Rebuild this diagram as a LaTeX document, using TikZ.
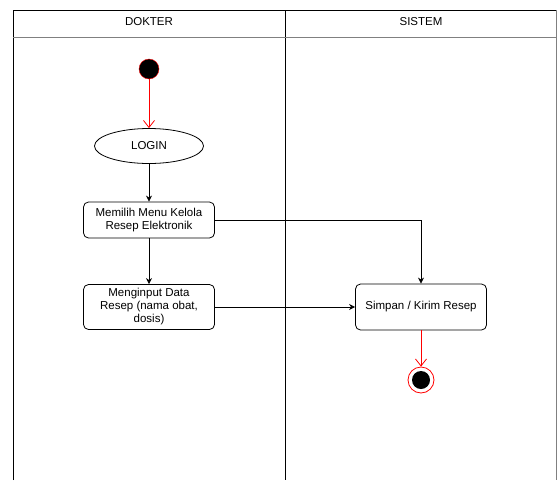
\documentclass[tikz,border=0pt]{standalone}
\usepackage{fontspec}
\setmainfont{Liberation Sans}
\usetikzlibrary{arrows.meta,positioning,shapes.geometric}

\begin{document}
\begin{tikzpicture}[x=1pt,y=-1pt,
  font=\fontsize{11.5}{13}\selectfont,
  action/.style={rectangle,rounded corners=5pt,draw,thick,minimum width=131pt,minimum height=36pt,align=center,inner sep=1pt},
  flow/.style={thick,-{Stealth[length=6pt,width=6pt]}},
  redflow/.style={thick,draw=red,-{Straight Barb[length=7pt,width=11pt]}}]

  \useasboundingbox (0,0) rectangle (557,480);

  % swimlanes
  \draw[thick] (13,480) -- (13,10) -- (556,10);
  \draw[thick] (285,10) -- (285,480);
  \draw[thick,gray] (556,10) -- (556,480);
  \draw[thick,gray] (13,37) -- (556,37);
  \node(lane1) at (149,22) {DOKTER};
  \node(lane2) at (421,22) {SISTEM};

  % dokter
  \node(start)[circle,fill=black,draw=red,minimum size=20pt,inner sep=0pt] at (149,69) {};
  \node(login)[ellipse,draw,thick,minimum width=109pt,minimum height=35pt] at (149,146) {LOGIN};
  \node(menu)[action] at (149,220) {Memilih Menu Kelola\\Resep Elektronik};
  \node(input)[action,minimum height=45pt] at (149,307) {Menginput Data\\Resep (nama obat,\\dosis)};

  % sistem
  \node(simpan)[action,minimum height=46pt] at (421,307) {Simpan / Kirim Resep};
  \node(finish)[circle,draw=red,thick,minimum size=26pt,inner sep=0pt] at (421,380) {};
  \node(finishin)[circle,fill=black,minimum size=18pt,inner sep=0pt] at (finish) {};

  \draw[redflow] (start) -- (login);
  \draw[flow] (login) -- (menu);
  \draw[flow] (menu) -- (input);
  % menu -> simpan
  \draw[flow] (menu.east) -- (menu.east -| simpan) -- (simpan);
  \draw[flow] (input) -- (simpan);
  \draw[redflow] (simpan) -- (finish);
\end{tikzpicture}
\end{document}
